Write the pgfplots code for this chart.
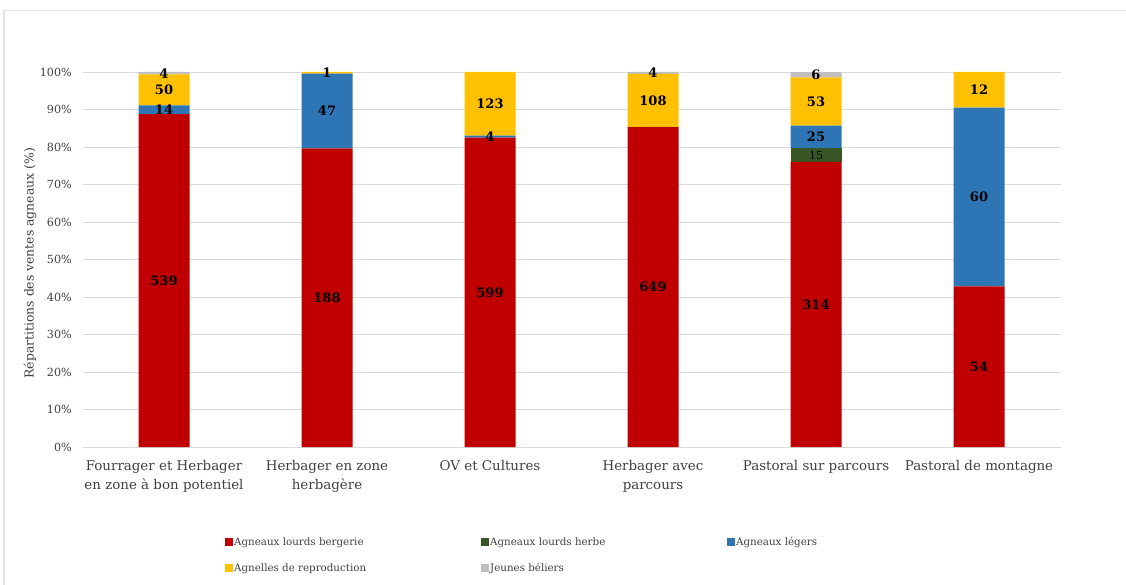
\documentclass[border=0pt]{standalone}
\usepackage{pgfplots}
\pgfplotsset{compat=1.18}
\usepackage{pgfplotstable}
\usepackage{fontspec}
\setmainfont{DejaVu Serif}

\definecolor{cLB}{HTML}{C00000}
\definecolor{cLH}{HTML}{375623}
\definecolor{cAL}{HTML}{2E75B6}
\definecolor{cAR}{HTML}{FFC000}
\definecolor{cJB}{HTML}{BFBFBF}
\definecolor{gridgray}{HTML}{D9D9D9}
\definecolor{framegray}{HTML}{E3E3E3}
\definecolor{txt}{HTML}{404040}

% Ventes d'agneaux (nombre de têtes) par système d'élevage
\pgfplotstableread{
x  lb   lh  al  ar   jb
0  539  0   14  50   4
1  188  0   47  1    0
2  599  0   4   123  0
3  649  0   0   108  4
4  314  15  25  53   6
5  54   0   60  12   0
}\ventes

% total des ventes de la ligne courante
\newcommand{\tot}{(\thisrow{lb}+\thisrow{lh}+\thisrow{al}+\thisrow{ar}+\thisrow{jb})}

\pgfplotsset{
  cadre/.style={
    at={(82.5pt,-447pt)}, anchor=south west,
    scale only axis, width=978pt, height=375pt,
    xmin=-0.5, xmax=5.5, ymin=0, ymax=100,
    /pgf/number format/assume math mode=true},
  segment/.style={draw=none, fill=#1},
  valeur/.style={draw=none, mark=none, point meta=explicit,
    nodes near coords={\pgfmathfloatifflags{\pgfplotspointmeta}{0}{}{\pgfmathprintnumber{\pgfplotspointmeta}}},
    nodes near coords align=center,
    every node near coord/.append style={font=\fontsize{13}{13}\selectfont\bfseries,
      inner sep=0pt, anchor=center, text=black}},
}

\begin{document}
\begin{tikzpicture}
\draw[framegray, line width=1.3pt] (4pt,-600pt) -- (4pt,-10.5pt) -- (1140pt,-10.5pt);
% parts (%) des ventes, barres empilées
\begin{axis}[
  cadre,
  ybar stacked, bar width=51pt,
  axis line style={draw=none},
  major tick length=0pt,
  ymajorgrids, grid style={gridgray, line width=0.9pt},
  ytick={0,10,...,100},
  yticklabel={\pgfmathprintnumber{\tick}\%},
  yticklabel style={font=\fontsize{11.2}{12}\selectfont, text=txt, inner sep=0pt, xshift=-10.5pt},
  xtick={0,...,5},
  xticklabels={{Fourrager et Herbager\\en zone à bon potentiel},
               {Herbager en zone\\herbagère},
               {OV et Cultures},
               {Herbager avec\\parcours},
               {Pastoral sur parcours},
               {Pastoral de montagne}},
  xticklabel style={font=\fontsize{13.4}{19}\selectfont, text=txt, align=center,
                    anchor=north, inner sep=0pt, yshift=-13pt},
  ylabel={Répartitions des ventes agneaux (\%)},
  every axis y label/.style={at={(axis description cs:-0.0537,0.49)}, rotate=90,
                             anchor=center, font=\fontsize{12.4}{13}\selectfont, text=txt},
  legend columns=3,
  legend cell align=left,
  legend image code/.code={\fill[#1] (0pt,-4pt) rectangle (8pt,4pt);},
  legend style={at={(0.1457,-0.238)}, anchor=north west, draw=none, fill=none,
                inner sep=0pt, font=\fontsize{10.3}{12}\selectfont, text=txt,
                nodes={inner sep=1pt}, row sep=14pt,
                /tikz/every even column/.append style={column sep=0pt}},
]
\addplot[segment=cLB] table[x=x, y expr={100*\thisrow{lb}/\tot}] {\ventes};
\addlegendentry{\makebox[246pt][l]{Agneaux lourds bergerie}}
\addplot[segment=cLH] table[x=x, y expr={100*\thisrow{lh}/\tot}] {\ventes};
\addlegendentry{\makebox[236pt][l]{Agneaux lourds herbe}}
\addplot[segment=cAL] table[x=x, y expr={100*\thisrow{al}/\tot}] {\ventes};
\addlegendentry{Agneaux légers}
\addplot[segment=cAR] table[x=x, y expr={100*\thisrow{ar}/\tot}] {\ventes};
\addlegendentry{\makebox[246pt][l]{Agnelles de reproduction}}
\addplot[segment=cJB] table[x=x, y expr={100*\thisrow{jb}/\tot}] {\ventes};
\addlegendentry{\makebox[236pt][l]{Jeunes béliers}}
\end{axis}
% effectifs au milieu de chaque segment
\begin{axis}[cadre, hide axis]
\addplot[valeur] table[x=x, meta=lb, y expr={100*(0.5*\thisrow{lb})/\tot}] {\ventes};
\addplot[valeur, every node near coord/.append style={font=\fontsize{11}{11}\selectfont}]
  table[x=x, meta=lh, y expr={100*(\thisrow{lb}+0.5*\thisrow{lh})/\tot}] {\ventes};
\addplot[valeur] table[x=x, meta=al, y expr={100*(\thisrow{lb}+\thisrow{lh}+0.5*\thisrow{al})/\tot}] {\ventes};
\addplot[valeur] table[x=x, meta=ar, y expr={100*(\thisrow{lb}+\thisrow{lh}+\thisrow{al}+0.5*\thisrow{ar})/\tot}] {\ventes};
\addplot[valeur] table[x=x, meta=jb, y expr={100*(\thisrow{lb}+\thisrow{lh}+\thisrow{al}+\thisrow{ar}+0.5*\thisrow{jb})/\tot}] {\ventes};
\end{axis}
\pgfresetboundingbox
\useasboundingbox (0pt,0pt) rectangle (1126pt,-585pt);
\end{tikzpicture}
\end{document}
